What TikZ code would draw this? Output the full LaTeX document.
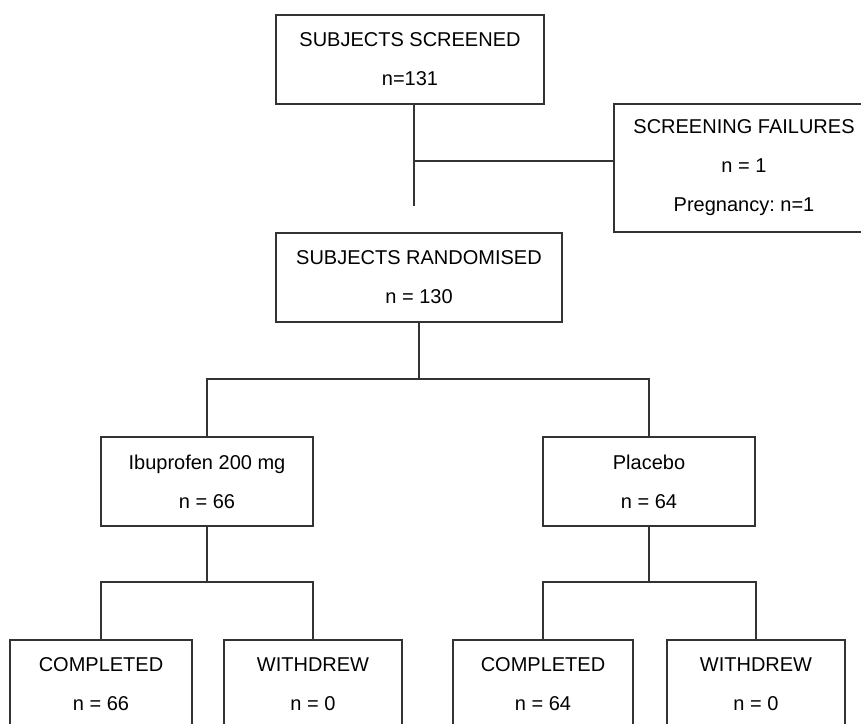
\documentclass[tikz,border=0pt]{standalone}
\usepackage{fontspec}
\setmainfont{Liberation Sans}
\frenchspacing
\usepackage{tikz}
\usetikzlibrary{
  calc
  , positioning
}

\begin{document}
\begin{tikzpicture}[
    x=1pt, y=-1pt,
    line width=1.3pt,
    BoxRect/.style={
      draw=black!80,
      rectangle,
      inner sep=0pt,
      outer sep=0pt,
      minimum height=89pt,
      align=center,
      font=\fontsize{20}{39}\selectfont,
    },
  ]
      \useasboundingbox (0,0) rectangle (861,723);
      \clip (0,0) rectangle (861,723);
      \def\LineColor {black!80};

      % screening
      \node [BoxRect, minimum width=268pt] (ScrRect) at (410, 59.5)
        {SUBJECTS SCREENED\\n=131};
      \node [BoxRect, minimum width=260pt, minimum height=128pt] (FailRect) at (744, 168)
        {SCREENING FAILURES\\n = 1\\Pregnancy: n=1};
      \node [BoxRect, minimum width=286pt] (RandRect) at (419, 277.5)
        {SUBJECTS RANDOMISED\\n = 130};

      \coordinate (ScrSplit) at (414, 161);
      \coordinate (ScrEnd) at (414, 206);
      \draw[color=\LineColor] (ScrSplit |- ScrRect.south) -- (ScrEnd);
      \draw[color=\LineColor] (ScrSplit) -- (ScrSplit -| FailRect.west);

      % arms
      \node [BoxRect, minimum width=212pt] (IbuRect) at (207, 481.5)
        {Ibuprofen 200 mg\\n = 66};
      \node [BoxRect, minimum width=212pt] (PlcbRect) at (649, 481.5)
        {Placebo\\n = 64};

      \coordinate (RandBar) at (419, 379);
      \draw[color=\LineColor] (RandRect.south) -- (RandBar);
      \draw[color=\LineColor] (IbuRect.north) |- (RandBar) -| (PlcbRect.north);

      % outcomes
      \node [BoxRect, minimum width=182pt] (IbuDoneRect) at (101, 684.5)
        {COMPLETED\\n = 66};
      \node [BoxRect, minimum width=178pt] (IbuWdrRect) at (313, 684.5)
        {WITHDREW\\n = 0};
      \node [BoxRect, minimum width=180pt] (PlcbDoneRect) at (543, 684.5)
        {COMPLETED\\n = 64};
      \node [BoxRect, minimum width=178pt] (PlcbWdrRect) at (756, 684.5)
        {WITHDREW\\n = 0};

      \coordinate (IbuBar) at (207, 582);
      \coordinate (PlcbBar) at (649, 582);
      \draw[color=\LineColor] (IbuRect.south) -- (IbuBar);
      \draw[color=\LineColor] (IbuDoneRect.north) |- (IbuBar) -| (IbuWdrRect.north);
      \draw[color=\LineColor] (PlcbRect.south) -- (PlcbBar);
      \draw[color=\LineColor] (PlcbDoneRect.north) |- (PlcbBar) -| (PlcbWdrRect.north);

    \end{tikzpicture}
\end{document}
